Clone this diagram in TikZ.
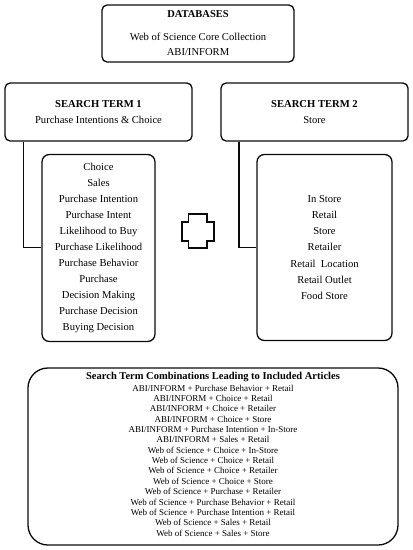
\documentclass[tikz,border=0pt]{standalone}
\usepackage{fontspec}
\setmainfont{Liberation Serif}
\definecolor{inkblack}{RGB}{10,10,10}

\tikzset{
	panel/.style={shape=rectangle,line width=1.3pt,draw=inkblack,
				  rounded corners=1.8mm,align=center,inner sep=0pt},
	feed/.style={line width=1.3pt,draw=inkblack}
}

\begin{document}
\begin{tikzpicture}[x=1pt,y=-1pt]
		\useasboundingbox (0,0) rectangle (413,550);
		% databases
		\draw node(databases)[panel,
						 minimum height=57pt,minimum width=192pt,
						 at={(198,33.5)}]
			{};
		\node (dbtitle)[font=\bfseries\fontsize{10.5}{12}\selectfont,at={(198,14)}]{DATABASES};
		\node (dbtext)[align=center,font=\fontsize{10.6}{15}\selectfont,at={(198,44.5)}]
			{Web of Science Core Collection\\ABI/INFORM};
		% search terms
		\draw node(term1)[panel,
						 minimum height=58pt,minimum width=187pt,
						 font=\fontsize{10.6}{16}\selectfont,
						 at={(98.5,112)}]
			{\textbf{SEARCH TERM 1}\\Purchase Intentions \& Choice};
		\draw node(term2)[panel,
						 minimum height=58pt,minimum width=187pt,
						 font=\fontsize{10.6}{16}\selectfont,
						 at={(314.5,112)}]
			{\textbf{SEARCH TERM 2}\\Store};
		% keyword lists
		\draw node(list1)[panel,rounded corners=2.6mm,
						 minimum height=187pt,minimum width=113pt,
						 font=\fontsize{10.6}{16}\selectfont,
						 at={(98.5,248)}]
			{Choice\\Sales\\Purchase Intention\\Purchase Intent\\Likelihood to Buy\\
			 Purchase Likelihood\\Purchase Behavior\\Purchase\\Decision Making\\
			 Purchase Decision\\Buying Decision};
		\draw node(list2)[panel,rounded corners=2.6mm,
						 minimum height=186pt,minimum width=135pt,
						 font=\fontsize{10.6}{16.2}\selectfont,
						 at={(324.5,247.5)}]
			{In Store\\Retail\\Store\\Retailer\\Retail~~Location\\Retail Outlet\\Food Store};
		\coordinate (bend1) at (23.5,247.5);
		\coordinate (bend2) at (239,247.5);
		\draw[feed] (term1.south -| bend1) -- (bend1) -- (bend1 -| list1.west);
		\draw[feed] (term2.south -| bend2) -- (bend2) -- (bend2 -| list2.west);
		% plus sign
		\draw[feed,line width=1.5pt] (188.5,214) -- (207,214) -- (207,222) -- (214,222) -- (214,241)
			-- (207,241) -- (207,248) -- (188.5,248) -- (188.5,241) -- (182,241) -- (182,222)
			-- (188.5,222) -- cycle;
		% combinations
		\draw node(combos)[panel,rounded corners=7mm,
						 minimum height=177pt,minimum width=370pt,
						 at={(213,456.5)}]
			{};
		\node (combotitle)[font=\bfseries\fontsize{10.5}{12}\selectfont,at={(213,377.5)}]
			{Search Term Combinations Leading to Included Articles};
		\node (combotext)[align=center,font=\fontsize{9}{10.36}\selectfont,at={(213,460.5)}]
			{ABI/INFORM + Purchase Behavior + Retail\\
			 ABI/INFORM + Choice + Retail\\
			 ABI/INFORM + Choice + Retailer\\
			 ABI/INFORM + Choice + Store\\
			 ABI/INFORM + Purchase Intention + In-Store\\
			 ABI/INFORM + Sales + Retail\\
			 Web of Science + Choice + In-Store\\
			 Web of Science + Choice + Retail\\
			 Web of Science + Choice + Retailer\\
			 Web of Science + Choice + Store\\
			 Web of Science + Purchase + Retailer\\
			 Web of Science + Purchase Behavior + Retail\\
			 Web of Science + Purchase Intention + Retail\\
			 Web of Science + Sales + Retail\\
			 Web of Science + Sales + Store};
		\end{tikzpicture}
\end{document}
